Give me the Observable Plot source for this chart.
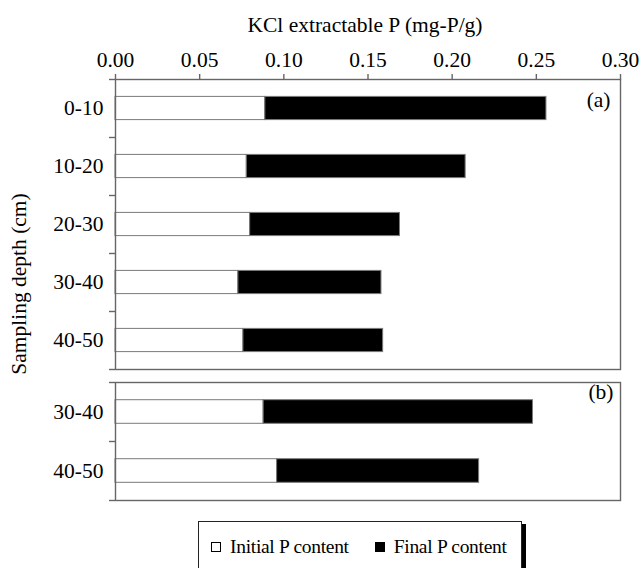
<!DOCTYPE html>
<html>
<head>
<meta charset="utf-8">
<script src="https://cdn.jsdelivr.net/npm/d3@7"></script>
<script src="https://cdn.jsdelivr.net/npm/@observablehq/plot@0.6"></script>
<style>
  body { margin: 0; background: #fff; }
  #wrap { position: relative; width: 642px; height: 568px; overflow: hidden; background: #fff;
          font-family: "Liberation Serif", "Times New Roman", Times, serif; color: #000; }
  #wrap svg { overflow: visible; }
  .panel { position: absolute; left: 0; }
  #ytitle { position: absolute; left: 19.5px; top: 284px; transform: translate(-50%, -50%) rotate(-90deg);
            white-space: nowrap; font-size: 21.5px; line-height: 1; }
  #legendBox { position: absolute; left: 198px; top: 521px; width: 324px; height: 70px;
               border: 1px solid #222; box-shadow: 4px 3px 0 #000; background: #fff;
               box-sizing: border-box; padding: 14px 0 0 12px;
               display: flex; align-items: flex-start; white-space: nowrap;
               font-size: 19.5px; letter-spacing: -0.3px; line-height: 21px; }
  .lgItem { display: flex; align-items: center; margin-right: 26px; }
  .lgSw { width: 10px; height: 10px; box-sizing: border-box; border: 1px solid #000; margin-right: 9px; }
</style>
</head>
<body>
<div id="wrap"></div>
<script>
// ---- data ----
const depthsA = ["0-10", "10-20", "20-30", "30-40", "40-50"];
const initialA = [0.089, 0.078, 0.080, 0.073, 0.076];
const finalA   = [0.167, 0.130, 0.089, 0.085, 0.083];
const depthsB = ["30-40", "40-50"];
const initialB = [0.088, 0.096];
const finalB   = [0.160, 0.120];
const series = ["Initial P content", "Final P content"];
const seriesColors = ["#ffffff", "#000000"];
const xTicks = [0.00, 0.05, 0.10, 0.15, 0.20, 0.25, 0.30];
const xTitle = "KCl extractable P (mg-P/g)";
const yTitle = "Sampling depth (cm)";
const panelLabels = ["(a)", "(b)"];

// ---- layout ----
const W = 642, ML = 115, MR = 22, GRID = "#666666", TICK = 6;
const xDomain = [xTicks[0], xTicks[xTicks.length - 1]];
const pxPerUnit = (W - ML - MR) / (xDomain[1] - xDomain[0]);
const baseStyle = {
  fontFamily: '"Liberation Serif", "Times New Roman", Times, serif',
  fontSize: "21.5px", color: "#000",
  background: "transparent", overflow: "visible"
};

function makeRows(depths, initial, final) {
  return depths.flatMap((d, i) => [
    {depth: d, series: series[0], value: initial[i]},
    {depth: d, series: series[1], value: final[i]}
  ]);
}

function panel({depths, initial, final, label, height, marginTop, marginBottom, axis, labelDx, labelDy}) {
  const rows = makeRows(depths, initial, final);
  const step = (height - marginTop - marginBottom) / depths.length;
  const tickX1 = () => xDomain[0] - TICK / pxPerUnit;
  const tickX2 = () => xDomain[0];
  const marks = [
    Plot.barX(rows, Plot.stackX({y: "depth", x: "value", fill: "series", stroke: "#7a7a7a", strokeWidth: 1})),
    Plot.frame({stroke: GRID, strokeWidth: 1.4}),
    Plot.ruleY(depths, {y: d => d, x1: tickX1, x2: tickX2, dy: step / 2, stroke: GRID, strokeWidth: 1.4}),
    Plot.ruleY([depths[0]], {y: d => d, x1: tickX1, x2: tickX2, dy: -step / 2, stroke: GRID, strokeWidth: 1.4}),
    Plot.axisY({tickSize: 0, tickPadding: 12, label: null}),
    Plot.text([label], {frameAnchor: "top-right", text: d => d, dx: labelDx, dy: labelDy, textAnchor: "end", lineAnchor: "middle"})
  ];
  if (axis) {
    marks.push(
      Plot.axisX({anchor: "top", ticks: xTicks, tickSize: 6, tickPadding: 7, tickFormat: d3.format(".2f"), label: null, stroke: GRID, strokeWidth: 1.4}),
      Plot.text([xTitle], {frameAnchor: "top", text: d => d, dy: -54, dx: -3, lineAnchor: "middle"})
    );
  }
  return Plot.plot({
    width: W, height, marginLeft: ML, marginRight: MR, marginTop, marginBottom,
    x: axis ? {domain: xDomain} : {domain: xDomain, axis: null},
    y: {domain: depths, paddingInner: 0.6, paddingOuter: 0.3, align: 0.5, round: false},
    color: {domain: series, range: seriesColors},
    style: baseStyle,
    marks
  });
}

const wrap = document.getElementById("wrap");

const pa = panel({depths: depthsA, initial: initialA, final: finalA, label: panelLabels[0],
  height: 372, marginTop: 79, marginBottom: 3, axis: true, labelDx: -10, labelDy: 21});
pa.classList.add("panel"); pa.style.top = "0px";
wrap.appendChild(pa);

const pb = panel({depths: depthsB, initial: initialB, final: finalB, label: panelLabels[1],
  height: 132, marginTop: 10, marginBottom: 4, axis: false, labelDx: -7, labelDy: 10});
pb.classList.add("panel"); pb.style.top = "372px";
wrap.appendChild(pb);

const yt = document.createElement("div");
yt.id = "ytitle"; yt.textContent = yTitle;
wrap.appendChild(yt);

const lb = document.createElement("div");
lb.id = "legendBox";
series.forEach((s, i) => {
  const item = document.createElement("span");
  item.className = "lgItem";
  const sw = document.createElement("span");
  sw.className = "lgSw";
  sw.style.background = seriesColors[i];
  item.appendChild(sw);
  item.appendChild(document.createTextNode(s));
  lb.appendChild(item);
});
wrap.appendChild(lb);
</script>
</body>
</html>
